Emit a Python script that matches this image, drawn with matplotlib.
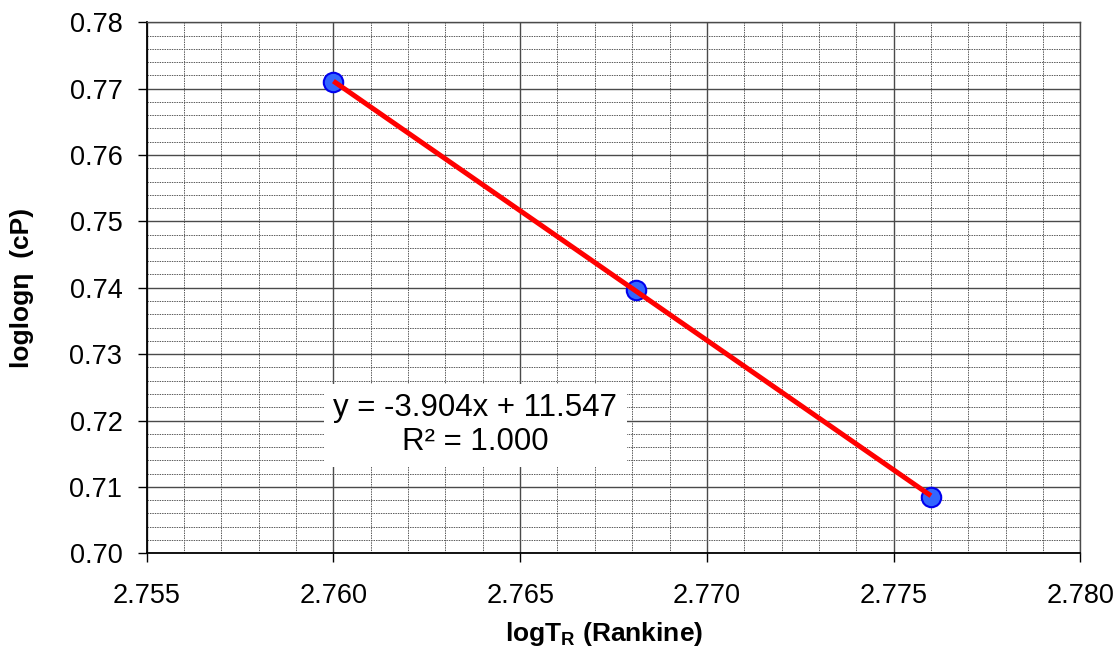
import numpy as np
import matplotlib
matplotlib.use('Agg')
import matplotlib.pyplot as plt
from matplotlib.ticker import MultipleLocator, FormatStrFormatter

plt.rcParams['font.family'] = ['Liberation Sans', 'DejaVu Sans']
plt.rcParams['mathtext.fontset'] = 'custom'
plt.rcParams['mathtext.rm'] = 'Liberation Sans'
plt.rcParams['mathtext.bf'] = 'Liberation Sans:bold'

# log10 of absolute temperature (Rankine) vs log10(log10(viscosity in cP))
log_t = [2.7600, 2.7681, 2.7760]
loglog_visc = [0.7710, 0.7397, 0.7085]

# linear trendline
fit_slope = -3.9043
fit_intercept = 11.5470
fit_r2 = 1.000

fig = plt.figure(figsize=(11.18, 6.51), dpi=100)
ax = fig.add_axes([0.1312, 0.1501, 0.8351, 0.8157])

ax.set_xlim(2.755, 2.780)
ax.set_ylim(0.70, 0.78)

ax.xaxis.set_major_locator(MultipleLocator(0.005))
ax.xaxis.set_minor_locator(MultipleLocator(0.001))
ax.yaxis.set_major_locator(MultipleLocator(0.01))
ax.yaxis.set_minor_locator(MultipleLocator(0.002))
ax.xaxis.set_major_formatter(FormatStrFormatter('%.3f'))
ax.yaxis.set_major_formatter(FormatStrFormatter('%.2f'))

ax.grid(which='major', color='#4a4a4a', linewidth=1.0, linestyle='-', zorder=0)
ax.grid(which='minor', color='#5a5a5a', linewidth=0.7, linestyle=(0, (1.5, 1)), zorder=0)
ax.set_axisbelow(True)

ax.tick_params(axis='both', which='major', direction='out', length=6.5, width=1,
               labelsize=19.5, color='black')
ax.tick_params(axis='x', which='major', pad=15)
ax.tick_params(axis='y', which='major', pad=11)
ax.tick_params(axis='both', which='minor', length=0)

for side in ('left', 'bottom'):
    ax.spines[side].set_color('black')
    ax.spines[side].set_linewidth(1.3)
for side in ('top', 'right'):
    ax.spines[side].set_color('#4a4a4a')
    ax.spines[side].set_linewidth(1.0)

# data points, then trendline on top
ax.plot(log_t, loglog_visc, linestyle='none', marker='o', markersize=14,
        markerfacecolor='#3366ff', markeredgecolor='#0000ee',
        markeredgewidth=1.5, zorder=3)
x_fit = np.array([min(log_t), max(log_t)])
ax.plot(x_fit, fit_slope * x_fit + fit_intercept, color='red',
        linewidth=3.6, solid_capstyle='butt', zorder=4)

eq = f'y = {fit_slope:.3f}x + {fit_intercept:.3f}\nR² = {fit_r2:.3f}'
ax.text(2.7638, 0.7193, eq, ha='center', va='center', fontsize=22.5,
        linespacing=1.15, zorder=5,
        bbox=dict(facecolor='white', edgecolor='none', pad=7))

ax.set_xlabel(r'$\mathbf{logT}_{\mathbf{R}}$ (Rankine)', fontsize=19,
              fontweight='bold')
ax.xaxis.set_label_coords(0.49, -0.126)
ax.set_ylabel('loglogη  (cP)', fontsize=19, fontweight='bold')
ax.yaxis.set_label_coords(-0.1207, 0.5)

fig.savefig('out.png', dpi=100)
